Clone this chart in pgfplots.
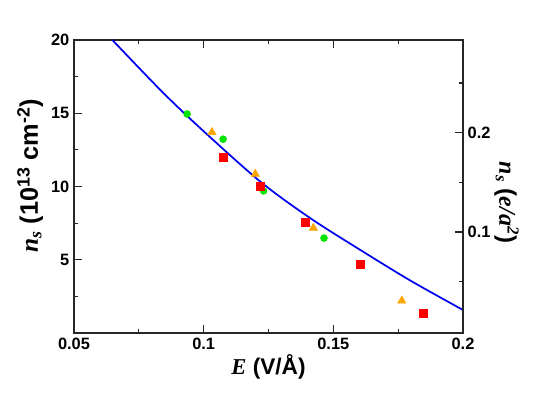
\documentclass[border=0pt]{standalone}
\usepackage{pgfplots}
\pgfplotsset{compat=1.18}
\usepackage{fontspec}
\setmainfont{Liberation Sans}
\newfontfamily\tmsbi{Liberation Serif}[BoldItalicFont={* Bold Italic},UprightFont={* Bold Italic}]

\definecolor{cred}{RGB}{255,0,0}
\definecolor{corange}{RGB}{255,165,0}
\definecolor{cgreen}{RGB}{0,228,0}
\definecolor{cblue}{RGB}{0,0,240}

\begin{document}
\begin{tikzpicture}
\pgfplotsset{
  every axis/.append style={
    scale only axis,
    width=291.75pt, height=219.75pt,
    xmin=0.05, xmax=0.2,
    tick align=inside,
    major tick length=6pt,
    minor tick length=3pt,
    axis line style={line width=1pt, black!85},
    every tick/.style={line width=0.8pt, black!85},
    tick label style={font=\fontsize{12.3}{14}\selectfont\bfseries},
    label style={font=\fontsize{17}{20}\selectfont\bfseries},
    /pgf/number format/assume math mode=true,
  }
}
\begin{axis}[
    ymin=0, ymax=20,
    xtick={0.05,0.1,0.15,0.2},
    xticklabels={0.05,0.1,0.15,0.2},
    minor xtick={0.075,0.125,0.175},
    ytick={5,10,15,20},
    minor ytick={2.5,7.5,12.5,17.5},
    ytick pos=left,
    xlabel={{\tmsbi E} (V/Å)},
    ylabel={{\tmsbi n}\textsubscript{\tmsbi s} (10\textsuperscript{13} cm\textsuperscript{-2})},
    xlabel style={yshift=3pt},
    ylabel style={yshift=-1pt, yshift=0pt, xshift=8pt, font=\fontsize{19}{22}\selectfont\bfseries},
]
\addplot[cblue, line width=1.3pt, smooth, no marks] coordinates {
  (0.0648,20.0) (0.0833,16.59) (0.0987,13.98) (0.1218,10.34)
  (0.1411,7.84) (0.1603,5.68) (0.1795,3.60) (0.1998,1.59)
};
\addplot[only marks, mark=*, mark size=2.6pt, color=cgreen] coordinates {
  (0.0936,14.95) (0.1075,13.23) (0.1231,9.70) (0.1464,6.48)
};
\addplot[only marks, mark=triangle*, mark size=3.6pt, color=corange] coordinates {
  (0.1032,13.70) (0.1199,10.85) (0.1423,7.17) (0.1764,2.20)
};
\addplot[only marks, mark=square*, mark size=3pt, color=cred] coordinates {
  (0.1077,12.0) (0.1218,10.04) (0.1391,7.54) (0.1605,4.70) (0.1845,1.32)
};
\end{axis}
\begin{axis}[
    ymin=-0.0017, ymax=0.2933,
    axis y line*=right,
    axis x line=none,
    ytick={0.1,0.2},
    yticklabels={0.1,0.2},
    minor ytick={0.05,0.15,0.25},
    ylabel={{\tmsbi n}\textsubscript{\tmsbi s} ({\tmsbi e/a}\textsuperscript{\tmsbi 2})},
    ylabel style={rotate=180, xshift=12pt, yshift=-4pt, font=\fontsize{18}{21}\selectfont\bfseries},
]
\end{axis}
\pgfresetboundingbox
\path (-55.5pt,-44.8pt) rectangle (353.25pt,249.75pt);
\end{tikzpicture}
\end{document}
